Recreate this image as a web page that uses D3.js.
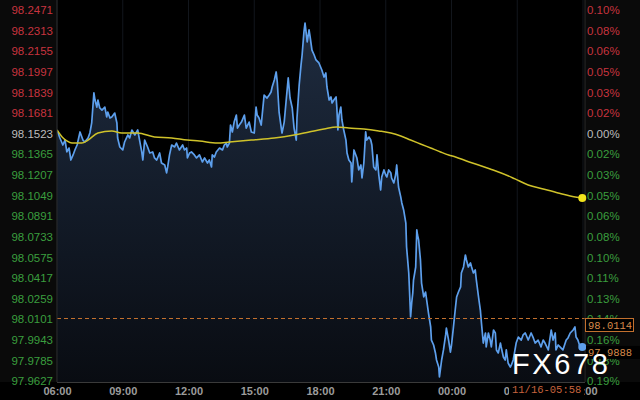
<!DOCTYPE html>
<html><head><meta charset="utf-8">
<script src="https://cdn.jsdelivr.net/npm/d3@7"></script>
<style>html,body{margin:0;padding:0;background:#000;overflow:hidden}</style>
</head><body><svg id="c" width="640" height="400"></svg>
<script>
// ---- data (minutes after 06:00, prices) ----
const priceMinutes = [0,8,16,22,27,33,38,44,49,55,63,71,76,85,90,95,101,104,109,112,117,123,131,136,139,145,150,158,164,166,172,180,185,194,199,205,213,221,226,232,235,240,248,254,262,267,273,281,286,295,300,303,308,314,322,327,335,344,349,355,357,363,368,376,382,390,398,404,412,417,423,425,431,436,445,453,458,464,466,472,475,480,485,491,494,499,505,513,518,526,532,540,545,548,553,559,567,575,581,586,589,595,600,603,608,614,616,622,627,633,638,644,649,655,657,663,668,671,676,679,685,690,693,698,704,709,717,725,731,736,739,745,750,753,758,764,766,769,772,777,780,785,791,794,799,805,807,813,818,821,826,832,835,840,845,848,854,859,862,867,873,876,881,886,889,895,900,903,908,914,916,922,927,930,935,941,944,949,955,957,963,965,968,971,974,976,982,985,987,990,995,998,1004,1009,1012,1017,1023,1025,1031,1036,1039,1045,1047,1053,1058,1064,1066,1072,1077,1080,1085,1091,1094,1099,1105,1107,1113,1118,1121,1126,1132,1135,1140,1145,1148,1154,1159,1162,1167,1173,1175,1181,1186,1189,1195,1200,1203,1208,1214,1216,1222,1227,1230,1235,1241,1244,1249,1257,1263,1271,1276,1282,1290,1298,1304,1309,1317,1325,1331,1336,1345,1353,1358,1364,1366,1372,1377,1385,1394,1399,1405,1413,1418,1421,1426,1432,1438];
const priceValues = [98.1551,98.1490,98.1436,98.1474,98.1383,98.1413,98.1321,98.1360,98.1398,98.1436,98.1536,98.1474,98.1459,98.1490,98.1528,98.1605,98.1835,98.1781,98.1727,98.1781,98.1720,98.1704,98.1727,98.1651,98.1689,98.1643,98.1651,98.1681,98.1605,98.1490,98.1421,98.1398,98.1459,98.1513,98.1490,98.1551,98.1513,98.1551,98.1474,98.1383,98.1321,98.1474,98.1421,98.1375,98.1383,98.1337,98.1321,98.1375,98.1298,98.1283,98.1222,98.1268,98.1360,98.1436,98.1421,98.1451,98.1398,98.1436,98.1398,98.1413,98.1337,98.1375,98.1383,98.1360,98.1337,98.1360,98.1306,98.1337,98.1298,98.1321,98.1268,98.1360,98.1344,98.1383,98.1413,98.1398,98.1436,98.1451,98.1421,98.1451,98.1589,98.1536,98.1612,98.1666,98.1566,98.1589,98.1612,98.1666,98.1566,98.1612,98.1536,98.1528,98.1727,98.1666,98.1643,98.1589,98.1819,98.1796,98.1819,98.1842,98.1881,98.1934,98.1996,98.1919,98.1689,98.1566,98.1528,98.1612,98.1766,98.1950,98.1796,98.1720,98.1566,98.1474,98.1643,98.1896,98.2049,98.2126,98.2302,98.2371,98.2226,98.2318,98.2264,98.2164,98.2126,98.2088,98.2065,98.2011,98.1957,98.1988,98.1881,98.1781,98.1804,98.1758,98.1781,98.1804,98.1727,98.1551,98.1666,98.1727,98.1628,98.1551,98.1474,98.1375,98.1321,98.1298,98.1153,98.1398,98.1360,98.1337,98.1245,98.1283,98.1183,98.1298,98.1536,98.1474,98.1497,98.1474,98.1436,98.1268,98.1245,98.1360,98.1206,98.1091,98.1191,98.1245,98.1206,98.1191,98.1245,98.1222,98.1183,98.1145,98.1206,98.1283,98.1114,98.1038,98.0992,98.0938,98.0838,98.0654,98.0455,98.0325,98.0118,98.0225,98.0302,98.0401,98.0501,98.0785,98.0746,98.0708,98.0555,98.0378,98.0271,98.0309,98.0248,98.0148,98.0041,97.9941,97.9903,97.9842,97.9788,97.9734,97.9658,97.9788,97.9865,97.9980,98.0033,97.9941,97.9849,97.9903,98.0033,98.0194,98.0271,98.0309,98.0348,98.0455,98.0501,98.0593,98.0555,98.0501,98.0532,98.0501,98.0455,98.0478,98.0401,98.0271,98.0171,98.0072,97.9918,97.9995,97.9888,97.9995,97.9941,97.9888,98.0018,97.9995,97.9865,97.9842,97.9918,97.9888,97.9811,97.9788,97.9865,97.9765,97.9734,97.9750,97.9788,97.9918,97.9964,97.9941,97.9980,97.9995,97.9941,97.9995,97.9957,97.9918,97.9941,97.9888,97.9941,97.9918,97.9865,98.0018,97.9941,97.9995,97.9865,97.9903,97.9888,97.9865,97.9941,97.9957,97.9995,98.0018,98.0041,97.9964,97.9941,97.9888,97.9888];
const maMinutes = [0,14,27,41,68,85,112,150,177,221,267,314,357,390,439,472,532,595,649,690,731,766,799,840,881,914,941,968,995,1023,1050,1072,1091,1121,1154,1186,1216,1254,1290,1331,1372,1405,1438];
const maValues = [98.1551,98.1497,98.1467,98.1451,98.1451,98.1474,98.1528,98.1544,98.1528,98.1528,98.1497,98.1490,98.1474,98.1467,98.1451,98.1459,98.1474,98.1490,98.1513,98.1536,98.1559,98.1574,98.1566,98.1559,98.1544,98.1528,98.1505,98.1474,98.1444,98.1413,98.1383,98.1360,98.1344,98.1314,98.1283,98.1252,98.1222,98.1176,98.1130,98.1099,98.1068,98.1045,98.1030];
const yTickValues = [98.2471,98.2313,98.2155,98.1997,98.1839,98.1681,98.1523,98.1365,98.1207,98.1049,98.0891,98.0733,98.0575,98.0417,98.0259,98.0101,97.9943,97.9785,97.9627];
const pctLabels = ["0.10%","0.08%","0.06%","0.05%","0.03%","0.02%","0.00%","0.02%","0.03%","0.05%","0.06%","0.08%","0.10%","0.11%","0.13%","0.14%","0.16%","0.18%","0.19%"];
const xTickMinutes = [0,180,360,540,720,900,1080,1260,1440];
const xTickLabels = ["06:00","09:00","12:00","15:00","18:00","21:00","00:00","03:00","06:00"];
const baseValue = 98.1523;
const refLineValue = 98.0114;
const lastPriceLabel = "97.9888";
const stampLabel = "11/16-05:58";
const watermarkText = "FX678";

// ---- drawing ----
const svg = d3.select("#c");
const W = 640, H = 400;
const L = 57, R = 585, T = 0, B = 382;
const x = d3.scaleLinear().domain([0,1440]).range([57,583]);
const y = d3.scaleLinear().domain([97.9627,98.2471]).range([381,10]);

svg.append("rect").attr("width",W).attr("height",H).attr("fill","#000");
svg.append("rect").attr("x",0).attr("y",0).attr("width",L).attr("height",B).attr("fill","#0a0a0a");
svg.append("rect").attr("x",R).attr("y",0).attr("width",W-R).attr("height",B).attr("fill","#0a0a0a");

const defs = svg.append("defs");
const grad = defs.append("linearGradient").attr("id","ag").attr("gradientUnits","userSpaceOnUse")
  .attr("x1",0).attr("y1",20).attr("x2",0).attr("y2",B);
grad.append("stop").attr("offset","0").attr("stop-color","#1f2c40");
grad.append("stop").attr("offset","0.45").attr("stop-color","#141d2b");
grad.append("stop").attr("offset","1").attr("stop-color","#090c12");
defs.append("clipPath").attr("id","pc").append("rect").attr("x",L).attr("y",T).attr("width",R-L).attr("height",B-T);

// faint vertical grid
svg.append("g").selectAll("line").data(xTickMinutes).join("line")
  .attr("x1",d=>x(d)).attr("x2",d=>x(d)).attr("y1",0).attr("y2",B)
  .attr("stroke","#12161c").attr("stroke-width",1);

const pts = priceMinutes.map((m,i)=>[m,priceValues[i]]);
const ma = maMinutes.map((m,i)=>[m,maValues[i]]);
const plot = svg.append("g").attr("clip-path","url(#pc)");
plot.append("path").datum(pts)
  .attr("d", d3.area().x(d=>x(d[0])).y0(B).y1(d=>y(d[1])))
  .attr("fill","url(#ag)");
plot.append("path").datum(pts)
  .attr("d", d3.line().x(d=>x(d[0])).y(d=>y(d[1])))
  .attr("fill","none").attr("stroke","#5d9fec").attr("stroke-width",1.7).attr("stroke-linejoin","round");
plot.append("path").datum(ma)
  .attr("d", d3.line().curve(d3.curveMonotoneX).x(d=>x(d[0])).y(d=>y(d[1])))
  .attr("fill","none").attr("stroke","#cfc22a").attr("stroke-width",1.5);

// reference dashed line
const ry = Math.round(y(refLineValue))+1.5;
svg.append("line").attr("x1",L).attr("x2",R).attr("y1",ry).attr("y2",ry)
  .attr("stroke","#c2702e").attr("stroke-width",1).attr("stroke-dasharray","4,3");

// axes lines
svg.append("line").attr("x1",L).attr("x2",L).attr("y1",0).attr("y2",B).attr("stroke","#2a2a2a");
svg.append("line").attr("x1",R).attr("x2",R).attr("y1",0).attr("y2",B).attr("stroke","#2a2a2a");
svg.append("line").attr("x1",L).attr("x2",R).attr("y1",B+0.5).attr("y2",B+0.5).attr("stroke","#3a3a3a");

const colorFor = v => Math.abs(v-baseValue)<1e-6 ? "#bdbdbd" : (v>baseValue ? "#c8343f" : "#3a9e3e");
const font = "'Liberation Sans', Arial, sans-serif";

const ay = svg.append("g").attr("transform",`translate(${L},0)`)
  .call(d3.axisLeft(y).tickValues(yTickValues).tickFormat(d=>d.toFixed(4)).tickSize(0).tickPadding(4));
ay.select(".domain").remove();
ay.selectAll("text").attr("fill",d=>colorFor(d)).style("font-family",font).style("font-size","11.5px");

const ar = svg.append("g").attr("transform",`translate(${R},0)`)
  .call(d3.axisRight(y).tickValues(yTickValues).tickFormat((d,i)=>pctLabels[i]).tickSize(0).tickPadding(2));
ar.select(".domain").remove();
ar.selectAll("text").attr("fill",d=>colorFor(d)).style("font-family",font).style("font-size","11.5px");

const ax = svg.append("g").attr("transform",`translate(0,${B})`)
  .call(d3.axisBottom(x).tickValues(xTickMinutes).tickFormat((d,i)=>xTickLabels[i]).tickSize(0).tickPadding(5));
ax.select(".domain").remove();
ax.selectAll("text").attr("fill","#9c9c9c").style("font-family",font).style("font-size","11px").style("font-weight","bold");

// end dots
const lastP = pts[pts.length-1], lastM = ma[ma.length-1];
svg.append("circle").attr("cx",x(lastM[0])).attr("cy",y(lastM[1])).attr("r",4).attr("fill","#f2e41c");
svg.append("circle").attr("cx",x(lastP[0])).attr("cy",y(lastP[1])).attr("r",4).attr("fill","#5d9fec");

// reference price box
const mono = "'Liberation Mono','DejaVu Sans Mono',monospace";
svg.append("rect").attr("x",R+0.5).attr("y",ry).attr("width",48).attr("height",13)
  .attr("fill","#000").attr("stroke","#c2702e").attr("stroke-width",1);
svg.append("text").attr("x",R+3).attr("y",ry+10.5).text(refLineValue.toFixed(4))
  .attr("fill","#d88a4a").style("font-family",mono).style("font-size","10.5px");

// last price label
const ly = y(lastP[1]);
svg.append("rect").attr("x",R+1).attr("y",ly-1).attr("width",W-R).attr("height",13).attr("fill","#000");
svg.append("text").attr("x",R+3).attr("y",ly+9.5).text(lastPriceLabel)
  .attr("fill","#d88a4a").style("font-family",mono).style("font-size","10.5px");

// time stamp
svg.append("rect").attr("x",509).attr("y",B+2).attr("width",75).attr("height",15).attr("fill","#000");
svg.append("text").attr("x",512).attr("y",B+11).text(stampLabel)
  .attr("fill","#c8643e").style("font-family",mono).style("font-size","10.5px");

// watermark
svg.append("text").attr("x",512).attr("y",374).text(watermarkText)
  .attr("textLength",96).attr("lengthAdjust","spacing")
  .attr("fill","#ffffff").style("font-family",font).style("font-size","29px");
</script>
</body></html>
